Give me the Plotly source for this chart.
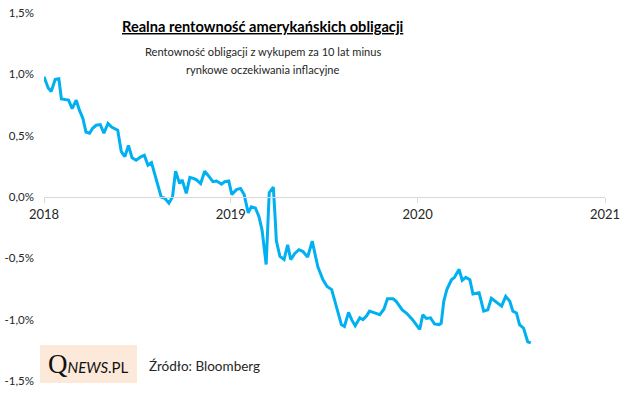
import plotly.graph_objects as go

dates = [
    "2018-01-01", "2018-01-09", "2018-01-15", "2018-01-23", "2018-01-30", "2018-02-04",
    "2018-02-18", "2018-02-25", "2018-03-05", "2018-03-11", "2018-03-18", "2018-03-24",
    "2018-03-31", "2018-04-06", "2018-04-13", "2018-04-21", "2018-04-28", "2018-05-06",
    "2018-05-13", "2018-05-25", "2018-06-01", "2018-06-08", "2018-06-15", "2018-06-22",
    "2018-06-30", "2018-07-10", "2018-07-16", "2018-07-23", "2018-07-30", "2018-08-09",
    "2018-08-18", "2018-08-25", "2018-09-02", "2018-09-09", "2018-09-15", "2018-09-23",
    "2018-09-28", "2018-10-06", "2018-10-13", "2018-10-21", "2018-10-26", "2018-11-03",
    "2018-11-11", "2018-11-17", "2018-11-27", "2018-12-04", "2018-12-14", "2018-12-20",
    "2018-12-28", "2019-01-03", "2019-01-12", "2019-01-20", "2019-01-27", "2019-02-04",
    "2019-02-10", "2019-02-18", "2019-02-25", "2019-03-03", "2019-03-07", "2019-03-11",
    "2019-03-17", "2019-03-25", "2019-03-28", "2019-03-31", "2019-04-07", "2019-04-15",
    "2019-04-22", "2019-04-28", "2019-05-06", "2019-05-14", "2019-05-22", "2019-05-31",
    "2019-06-09", "2019-06-14", "2019-06-20", "2019-06-30", "2019-07-08", "2019-07-17",
    "2019-07-23", "2019-07-30", "2019-08-05", "2019-08-11", "2019-08-19", "2019-08-25",
    "2019-09-01", "2019-09-10", "2019-09-16", "2019-09-23", "2019-09-29", "2019-10-09",
    "2019-10-19", "2019-10-27", "2019-11-03", "2019-11-14", "2019-11-20", "2019-12-02",
    "2019-12-11", "2019-12-22", "2020-01-05", "2020-01-11", "2020-01-18", "2020-01-26",
    "2020-02-03", "2020-02-12", "2020-02-16", "2020-02-21", "2020-02-27", "2020-03-07",
    "2020-03-13", "2020-03-22", "2020-03-28", "2020-04-04", "2020-04-12", "2020-04-18",
    "2020-04-30", "2020-05-09", "2020-05-17", "2020-05-24", "2020-06-01", "2020-06-13",
    "2020-06-21", "2020-06-29", "2020-07-05", "2020-07-12", "2020-07-18", "2020-07-26",
    "2020-08-03", "2020-08-09",
]
real_yield = [
    0.98, 0.89, 0.86, 0.96, 0.965, 0.80,
    0.79, 0.72, 0.79, 0.71, 0.64, 0.53,
    0.52, 0.56, 0.585, 0.59, 0.52, 0.60,
    0.57, 0.545, 0.37, 0.33, 0.42, 0.32,
    0.30, 0.33, 0.34, 0.26, 0.28, 0.14,
    0.00, -0.01, -0.05, 0.00, 0.21, 0.11,
    0.14, 0.03, 0.16, 0.15, 0.14, 0.11,
    0.21, 0.18, 0.125, 0.13, 0.105, 0.125,
    0.13, 0.02, 0.06, 0.07, 0.02, -0.13,
    -0.08, -0.09, -0.16, -0.27, -0.40, -0.55,
    0.035, 0.08, -0.13, -0.36, -0.485, -0.51,
    -0.39, -0.51, -0.46, -0.43, -0.445, -0.49,
    -0.36, -0.47, -0.57, -0.675, -0.73, -0.755,
    -0.84, -0.945, -1.04, -1.055, -0.94, -1.00,
    -1.05, -0.985, -1.00, -0.97, -0.93, -0.945,
    -0.96, -0.915, -0.83, -0.83, -0.85, -0.92,
    -0.95, -1.00, -1.08, -0.96, -0.99, -0.985,
    -1.035, -1.04, -1.03, -0.85, -0.755, -0.675,
    -0.655, -0.59, -0.68, -0.655, -0.675, -0.79,
    -0.78, -0.93, -0.92, -0.825, -0.85, -0.89,
    -0.81, -0.85, -0.93, -0.945, -1.04, -1.07,
    -1.18, -1.19,
]
y_ticks = [-1.5, -1.0, -0.5, 0.0, 0.5, 1.0, 1.5]
y_tick_labels = ["-1,5%", "-1,0%", "-0,5%", "0,0%", "0,5%", "1,0%", "1,5%"]
x_range = ["2018-01-01", "2021-01-01"]

title_text = "Realna rentowność amerykańskich obligacji"
subtitle_line1 = "Rentowność obligacji z wykupem za 10 lat minus"
subtitle_line2 = "rynkowe oczekiwania inflacyjne"
source_text = "Źródło: Bloomberg"

FONT = "Lato"

fig = go.Figure()
fig.add_trace(go.Scatter(
    x=dates, y=real_yield, mode="lines",
    line=dict(color="#00b0f0", width=3),
    hoverinfo="skip", showlegend=False,
))

fig.update_layout(
    width=637, height=416,
    margin=dict(l=44, r=32, t=13, b=35),
    paper_bgcolor="white", plot_bgcolor="white",
    font=dict(family=FONT, size=12, color="#262626"),
    xaxis=dict(
        type="date", range=x_range, dtick="M12", tickformat="%Y",
        showgrid=False, zeroline=False, automargin=False,
        showline=True, linecolor="#d9d9d9", linewidth=1,
        ticks="outside", ticklen=5, tickcolor="#d9d9d9",
        anchor="free", position=0.5,
        tickfont=dict(size=13, color="#262626"),
    ),
    yaxis=dict(
        range=[-1.5, 1.5], tickvals=y_ticks, ticktext=y_tick_labels,
        showgrid=False, zeroline=False, showline=False, ticks="",
        automargin=False, ticklabelstandoff=9,
        tickfont=dict(size=11.5, color="#262626"),
    ),
    annotations=[
        dict(text="<b>" + title_text + "</b>", xref="paper", yref="paper",
             x=0.390, y=(381 - 27) / 368, xanchor="center", yanchor="middle", showarrow=False,
             font=dict(family=FONT, size=14.6, color="black", lineposition="under")),
        dict(text=subtitle_line1, xref="paper", yref="paper",
             x=0.390, y=(381 - 51) / 368, xanchor="center", yanchor="middle", showarrow=False,
             font=dict(family=FONT, size=11.1, color="#262626")),
        dict(text=subtitle_line2, xref="paper", yref="paper",
             x=0.390, y=(381 - 70) / 368, xanchor="center", yanchor="middle", showarrow=False,
             font=dict(family=FONT, size=11.1, color="#262626")),
        dict(text='<span style="font-family:Liberation Serif;font-size:27px">Q</span>'
                  '<i>NEWS</i>.PL',
             xref="paper", yref="paper", x=0.0794, y=0.046,
             xanchor="center", yanchor="middle", showarrow=False,
             font=dict(family=FONT, size=15, color="#111111")),
        dict(text=source_text, xref="paper", yref="paper",
             x=0.1836, y=0.0408, xanchor="left", yanchor="middle", showarrow=False,
             font=dict(family=FONT, size=13.5, color="#262626")),
    ],
    shapes=[
        dict(type="rect", xref="paper", yref="paper",
             x0=-0.0071, x1=0.1658, y0=-0.0054, y1=0.0978,
             fillcolor="#fde9d9", line=dict(width=0), layer="below"),
    ],
)

fig.write_html(
    "out.html",
    config={"displayModeBar": False},
    post_script="document.body.style.margin='0';document.body.style.overflow='hidden';",
)
